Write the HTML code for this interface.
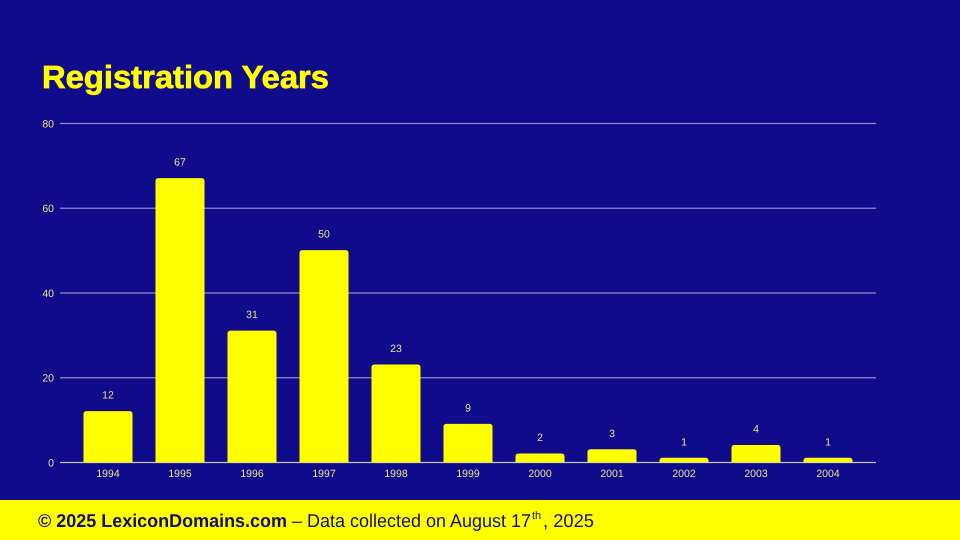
<!DOCTYPE html>
<html lang="en">
<head>
<meta charset="utf-8">
<title>Registration Years</title>
<style>
html,body{margin:0;padding:0;width:960px;height:540px;overflow:hidden;background:#100b8a}
svg{display:block}
text{font-family:"Liberation Sans",sans-serif;text-rendering:geometricPrecision}
</style>
</head>
<body>
<svg id="chart" width="960" height="540" viewBox="0 0 960 540" xmlns="http://www.w3.org/2000/svg">
  <rect x="0" y="0" width="960" height="540" fill="#100b8a"/>
  <text x="42" y="88" font-size="32" font-weight="700" fill="#ffff00" stroke="#ffff00" stroke-width="0.7" textLength="287" lengthAdjust="spacingAndGlyphs">Registration Years</text>
  <g id="grid"></g>
  <g id="bars"></g>
  <g id="labels"></g>
  <rect x="0" y="500" width="960" height="40" fill="#ffff00"/>
  <text x="38" y="527" font-size="18.5" font-weight="700" fill="#12106e" textLength="249" lengthAdjust="spacingAndGlyphs">© 2025 LexiconDomains.com</text>
  <text x="292" y="527" font-size="18.5" fill="#12106e" textLength="239" lengthAdjust="spacingAndGlyphs">– Data collected on August 17</text>
  <text x="532" y="519" font-size="11" fill="#12106e">th</text>
  <text x="543" y="527" font-size="18.5" fill="#12106e" textLength="51" lengthAdjust="spacingAndGlyphs">, 2025</text>
</svg>
<script>
const categories = ['1994','1995','1996','1997','1998','1999','2000','2001','2002','2003','2004'];
const registrations = [12,67,31,50,23,9,2,3,1,4,1];
const yTicks = [0,20,40,60,80];

const SVG_NS = 'http://www.w3.org/2000/svg';
const plotLeft = 60, plotRight = 876, bandLeft = 72, bandStep = 72, barWidth = 48;
const yZero = 462.5, yTop = 123.5, yMax = 80;
const yScale = v => yZero - (v / yMax) * (yZero - yTop);
const xCenter = i => bandLeft + bandStep * i + bandStep / 2;

function make(tag, attrs, text) {
  const el = document.createElementNS(SVG_NS, tag);
  for (const k in attrs) el.setAttribute(k, attrs[k]);
  if (text !== undefined) el.textContent = text;
  return el;
}

const grid = document.getElementById('grid');
const bars = document.getElementById('bars');
const labels = document.getElementById('labels');

yTicks.forEach(t => {
  const y = yScale(t);
  const line = make('line', {x1: plotLeft, x2: plotRight, y1: y, y2: y, stroke: t === 0 ? '#c4c4e6' : '#8f8cc6', 'stroke-width': 1.2});
  
  
  grid.appendChild(line);
  const label = make('text', {x: 54, y: y + 3.8, 'text-anchor': 'end', 'font-size': 10.5, fill: '#ece58f'}, t);
  
  
  labels.appendChild(label);
});

categories.forEach((c, i) => {
  const v = registrations[i];
  const cx = xCenter(i);
  const top = yScale(v);
  const bottom = yZero - 0.5;
  const left = cx - barWidth / 2;
  const right = cx + barWidth / 2;
  const r = Math.min(2.5, Math.max(bottom - top, 0));
  const d = 'M' + left + ' ' + bottom +
    'V' + (top + r) +
    'Q' + left + ' ' + top + ' ' + (left + r) + ' ' + top +
    'H' + (right - r) +
    'Q' + right + ' ' + top + ' ' + right + ' ' + (top + r) +
    'V' + bottom + 'Z';
  const bar = make('path', {d: d, fill: '#ffff00', stroke: '#ffff00', 'stroke-width': 1, 'stroke-linejoin': 'round'});
  
  
  bars.appendChild(bar);

  const valueLabel = make('text', {x: cx, y: top - 13, 'text-anchor': 'middle', 'font-size': 10.5, fill: '#ece58f'}, v);
  
  
  labels.appendChild(valueLabel);

  const xLabel = make('text', {x: cx, y: 477, 'text-anchor': 'middle', 'font-size': 10.5, fill: '#ece58f'}, c);
  
  
  labels.appendChild(xLabel);
});
</script>
</body>
</html>
